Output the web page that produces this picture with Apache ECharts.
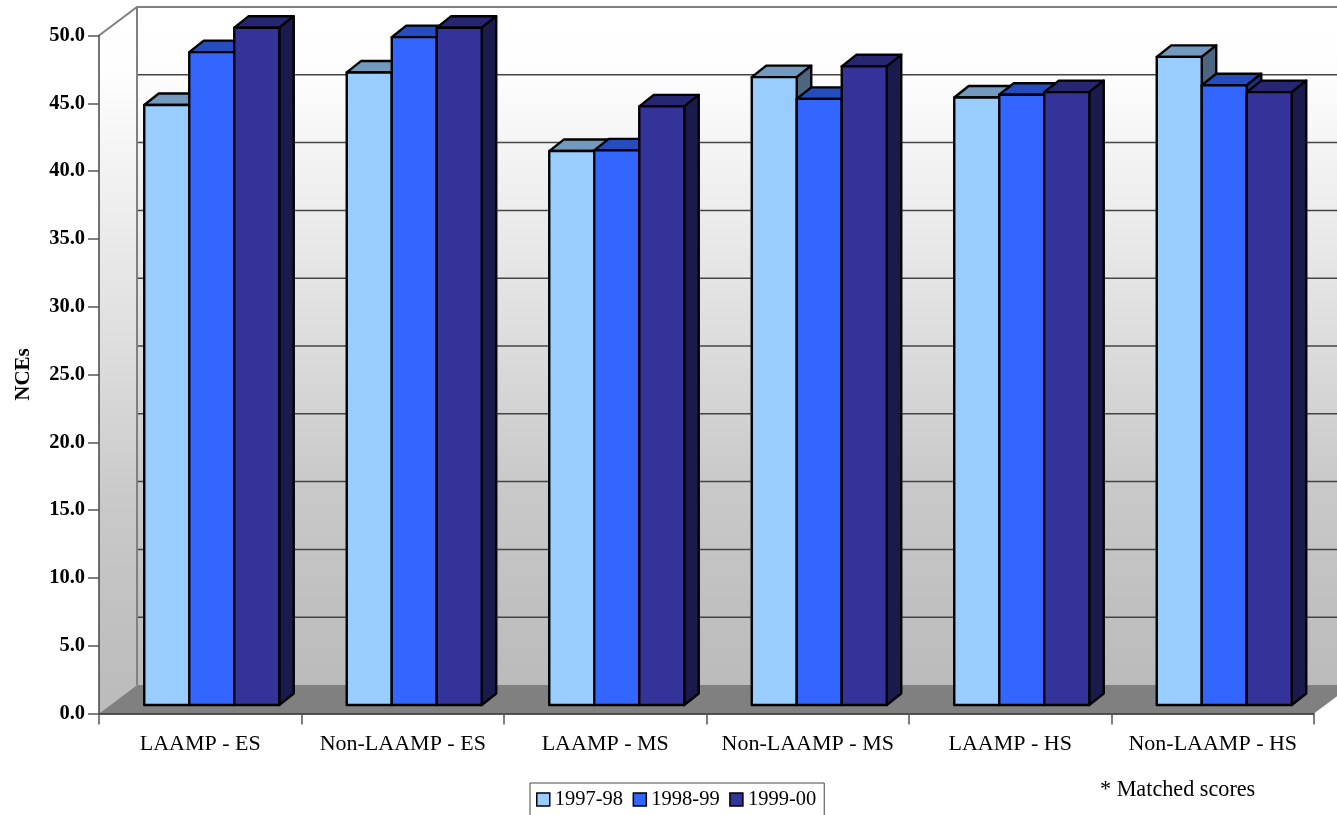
<!DOCTYPE html>
<html>
<head>
<meta charset="utf-8">
<title>NCEs</title>
<script src="https://cdn.jsdelivr.net/npm/echarts@6/dist/echarts.min.js"></script>
<style>
  html, body { margin: 0; padding: 0; background: #fff; overflow: hidden; }
  #container { width: 1337px; height: 815px; }
</style>
</head>
<body>
<div id="container"></div>
<script>
const categories = ["LAAMP - ES", "Non-LAAMP - ES", "LAAMP - MS", "Non-LAAMP - MS", "LAAMP - HS", "Non-LAAMP - HS"];
const years = ["1997-98", "1998-99", "1999-00"];
const values9798 = [44.25, 46.65, 40.85, 46.3, 44.8, 47.8];
const values9899 = [48.15, 49.25, 40.9, 44.7, 45.0, 45.7];
const values9900 = [49.95, 49.95, 44.15, 47.1, 45.2, 45.2];
const yTicks = [5, 10, 15, 20, 25, 30, 35, 40, 45];

const frontColors = ["#99ccff", "#3366ff", "#333399"];
const topColors = ["#7399bf", "#264dbf", "#262673"];
const sideColors = ["#4d6680", "#1a3380", "#1a1a4d"];

// the fake 3d box: how far the back wall sits from the axes
const wallDx = 38;
const wallDy = 28.5;
// bars stand inside that depth
const barShiftX = 11.5;
const barShiftY = 8.5;
const barDx = 14.5;
const barDy = 11.5;

const serif = '"Liberation Serif", serif';

let dom = document.getElementById("container");
let myChart = echarts.init(dom, null, { renderer: "canvas" });

function renderWalls(params, api) {
  let cs = params.coordSys;
  let left = cs.x;
  let right = cs.x + cs.width;
  let top = cs.y;
  let bottom = cs.y + cs.height;
  let wallGrad = new echarts.graphic.LinearGradient(0, 0, 0, 1, [
    { offset: 0, color: "#ffffff" },
    { offset: 0.1, color: "#fdfdfd" },
    { offset: 0.5, color: "#dcdcdc" },
    { offset: 0.7, color: "#c9c9c9" },
    { offset: 0.9, color: "#bfbfbf" },
    { offset: 1, color: "#bbbbbb" },
  ]);
  let children = [
    {
      type: "polygon",
      shape: { points: [[left, top], [left + wallDx, top - wallDy], [left + wallDx, bottom - wallDy], [left, bottom]] },
      style: { fill: wallGrad },
    },
    {
      type: "rect",
      shape: { x: left + wallDx, y: top - wallDy, width: cs.width, height: cs.height },
      style: { fill: wallGrad },
    },
    {
      type: "polygon",
      shape: { points: [[left, bottom], [left + wallDx, bottom - wallDy], [right + wallDx, bottom - wallDy], [right, bottom]] },
      style: { fill: "#808080" },
    },
  ];
  yTicks.forEach(function (v) {
    let y = api.coord([0, v])[1] - wallDy;
    children.push({
      type: "line",
      shape: { x1: left + wallDx, y1: y, x2: right + wallDx, y2: y },
      style: { stroke: "#444444", lineWidth: 1.5 },
    });
  });
  // top and back edges of the box
  children.push({
    type: "polyline",
    shape: { points: [[left, top], [left + wallDx, top - wallDy], [right + wallDx, top - wallDy]] },
    style: { stroke: "#808080", lineWidth: 2, fill: "none" },
  });
  children.push({
    type: "line",
    shape: { x1: left + wallDx, y1: top - wallDy, x2: left + wallDx, y2: bottom - wallDy },
    style: { stroke: "#808080", lineWidth: 2 },
  });
  return { type: "group", children: children };
}

function makeRenderBar(idx) {
  return function (params, api) {
    let band = api.size([1, 0])[0];
    let w = band / 4.5;
    let p = api.coord([api.value(0), api.value(1)]);
    let base = api.coord([api.value(0), 0]);
    let x = p[0] + barShiftX - 1.5 * w + idx * w;
    let y = p[1] - barShiftY;
    let y0 = base[1] - barShiftY;
    let line = { stroke: "#000000", lineWidth: 2.4, lineJoin: "round" };
    return {
      type: "group",
      children: [
        {
          type: "polygon",
          shape: { points: [[x, y], [x + barDx, y - barDy], [x + w + barDx, y - barDy], [x + w, y]] },
          style: Object.assign({ fill: topColors[idx] }, line),
        },
        {
          type: "polygon",
          shape: { points: [[x + w, y], [x + w + barDx, y - barDy], [x + w + barDx, y0 - barDy], [x + w, y0]] },
          style: Object.assign({ fill: sideColors[idx] }, line),
        },
        {
          type: "rect",
          shape: { x: x, y: y, width: w, height: y0 - y },
          style: Object.assign({ fill: frontColors[idx] }, line),
        },
      ],
    };
  };
}

function barSeries(idx, values) {
  return {
    name: years[idx],
    type: "custom",
    z: 3,
    renderItem: makeRenderBar(idx),
    encode: { x: 0, y: 1 },
    itemStyle: { color: frontColors[idx] },
    data: values.map(function (v, i) {
      return [i, v];
    }),
  };
}

let option = {
  animation: false,
  backgroundColor: "#ffffff",
  grid: { left: 99, right: 23, top: 35.5, bottom: 101.5, outerBoundsMode: "none" },
  legend: {
    data: years,
    left: 530,
    top: 783,
    orient: "horizontal",
    padding: [6, 8, 20, 6],
    itemGap: 9.5,
    itemWidth: 13,
    itemHeight: 13,
    icon: "rect",
    borderColor: "#444444",
    borderWidth: 1,
    itemStyle: { borderColor: "#000000", borderWidth: 1.5 },
    textStyle: { fontFamily: serif, fontSize: 20.5, color: "#000000" },
  },
  xAxis: {
    type: "category",
    data: categories,
    z: 5,
    axisLine: { lineStyle: { color: "#222222", width: 1.5 } },
    axisTick: { show: true, alignWithLabel: false, length: 11, lineStyle: { color: "#555555", width: 1.5 } },
    axisLabel: { fontFamily: serif, fontSize: 22, color: "#000000", margin: 20, interval: 0 },
    splitLine: { show: false },
  },
  yAxis: {
    type: "value",
    min: 0,
    max: 50,
    interval: 5,
    z: 5,
    name: "NCEs",
    nameLocation: "middle",
    nameGap: 65,
    nameRotate: 90,
    nameTextStyle: { fontFamily: serif, fontSize: 21, fontWeight: "bold", color: "#000000" },
    axisLine: { show: true, lineStyle: { color: "#444444", width: 1.5 } },
    axisTick: { show: true, length: 11, lineStyle: { color: "#555555", width: 1.5 } },
    axisLabel: {
      fontFamily: serif,
      fontSize: 20.5,
      fontWeight: "bold",
      color: "#000000",
      margin: 14,
      formatter: function (v) {
        return v.toFixed(1);
      },
    },
    splitLine: { show: false },
  },
  graphic: [
    {
      type: "text",
      left: 1100,
      top: 779,
      style: { text: "* Matched scores", fontFamily: serif, fontSize: 22.2, fill: "#000000" },
    },
  ],
  series: [
    {
      type: "custom",
      z: 1,
      silent: true,
      renderItem: renderWalls,
      encode: { x: 0, y: 1 },
      data: [[0, 0]],
    },
    barSeries(0, values9798),
    barSeries(1, values9899),
    barSeries(2, values9900),
  ],
};

myChart.setOption(option);
window.addEventListener("resize", myChart.resize);
</script>
</body>
</html>
